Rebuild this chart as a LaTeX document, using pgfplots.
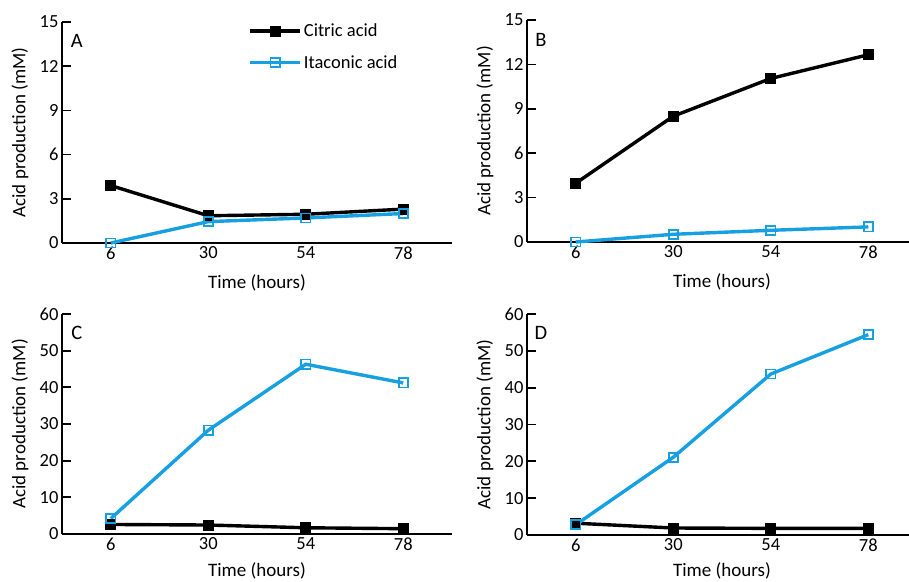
\documentclass[border=0pt]{standalone}
\usepackage{pgfplots}
\pgfplotsset{compat=1.18}
\usepackage{fontspec}
\setmainfont{Carlito}

\definecolor{citric}{RGB}{0,0,0}
\definecolor{itac}{RGB}{22,160,225}

\pgfplotsset{
  panel/.style={
    scale only axis,
    width=390pt,
    xmin=-6, xmax=90,
    ymin=0,
    axis x line*=bottom,
    axis y line*=left,
    axis line style={-, line width=1.7pt},
    tick align=inside,
    xtick={6,30,54,78},
    xtick style={draw=none},
    minor xtick={18,42,66,90},
    minor tick length=8pt,
    minor x tick style={line width=1.7pt, black},
    major tick length=9pt,
    ytick style={line width=1.7pt, black},
    tick label style={font=\fontsize{18.5}{20}\selectfont},
    /pgf/number format/assume math mode=true,
    every axis x label/.style={at={(axis description cs:0.5,0)}, yshift=-40pt, anchor=center},
    every axis y label/.style={at={(axis description cs:0,0.5)}, xshift=-42pt, rotate=90, anchor=center},
    label style={font=\fontsize{19}{21}\selectfont},
    xlabel={Time (hours)},
    ylabel={Acid production (mM)},
    clip=false,
  },
  cit/.style={black, line width=3.4pt, mark=square*, mark size=5pt, mark options={solid, fill=black, line width=1pt}},
  ita/.style={itac, line width=3.4pt, mark=square, mark size=4.6pt, mark options={solid, line width=1.7pt}},
}

\begin{document}
\begin{tikzpicture}
\useasboundingbox (0,0) rectangle (909pt,581pt);
\clip (0,0) rectangle (909pt,581pt);

% A
\begin{axis}[panel, at={(62pt,338pt)}, anchor=south west, height=221pt,
  ymax=15, ytick={0,3,6,9,12,15},
  legend style={at={(0.47,1.01)}, anchor=north west, draw=none, fill=none,
    font=\fontsize{18.5}{20}\selectfont, row sep=13pt},
  legend cell align=left,
  legend image code/.code={\draw[#1, mark repeat=2, mark phase=2] plot coordinates {(0pt,0pt) (25pt,0pt) (50pt,0pt)};},
  ]
  \addplot[cit] coordinates {(6,3.9) (30,1.85) (54,1.95) (78,2.3)};
  \addplot[ita] coordinates {(6,0) (30,1.45) (54,1.7) (78,2.0)};
  \legend{Citric acid, Itaconic acid}
  \node[font=\fontsize{20.5}{22}\selectfont] at (rel axis cs:0.038,0.914) {A};
\end{axis}

% B
\begin{axis}[panel, at={(527pt,339pt)}, anchor=south west, height=222pt,
  ymax=15, ytick={0,3,6,9,12,15}]
  \addplot[cit] coordinates {(6,3.97) (30,8.5) (54,11.05) (78,12.65)};
  \addplot[ita] coordinates {(6,0) (30,0.52) (54,0.79) (78,1.02)};
  \node[font=\fontsize{20.5}{22}\selectfont] at (rel axis cs:0.036,0.912) {B};
\end{axis}

% C
\begin{axis}[panel, at={(62pt,47pt)}, anchor=south west, height=220pt,
  ymax=60, ytick={0,10,20,30,40,50,60},
  every axis x label/.append style={yshift=3pt}]
  \addplot[cit] coordinates {(6,2.6) (30,2.45) (54,1.7) (78,1.45)};
  \addplot[ita] coordinates {(6,4.2) (30,28.3) (54,46.3) (78,41.2)};
  \node[font=\fontsize{20.5}{22}\selectfont] at (rel axis cs:0.038,0.914) {C};
\end{axis}

% D
\begin{axis}[panel, at={(527pt,46pt)}, anchor=south west, height=221pt,
  ymax=60, ytick={0,10,20,30,40,50,60},
  every axis x label/.append style={yshift=4pt}]
  \addplot[cit] coordinates {(6,3.2) (30,1.9) (54,1.8) (78,1.8)};
  \addplot[ita] coordinates {(6,2.8) (30,21.1) (54,43.7) (78,54.4)};
  \node[font=\fontsize{20.5}{22}\selectfont] at (rel axis cs:0.036,0.914) {D};
\end{axis}
\end{tikzpicture}
\end{document}
